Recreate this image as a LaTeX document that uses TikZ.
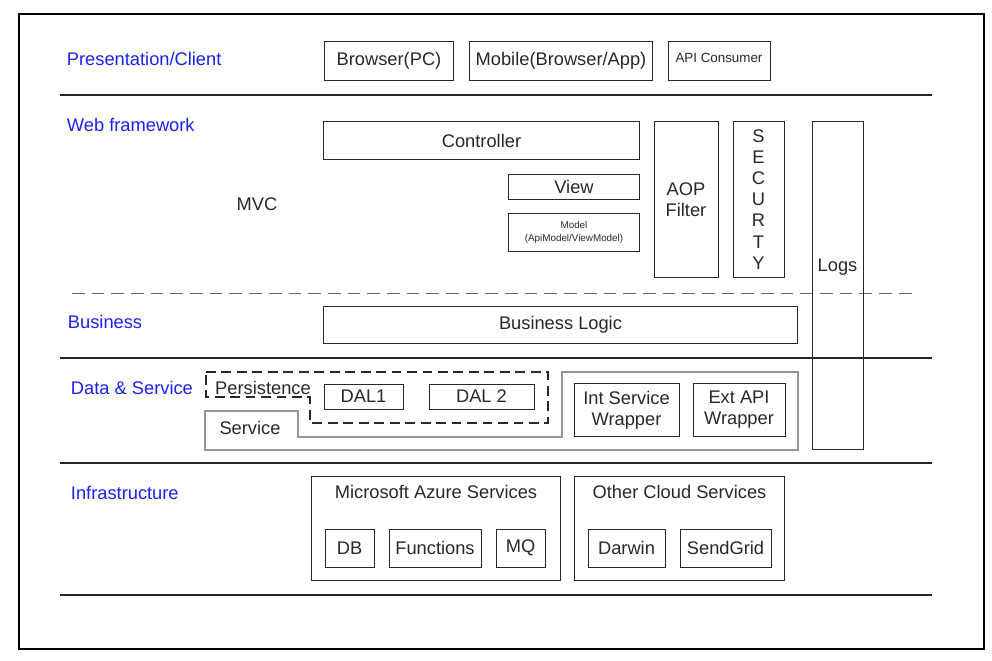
\documentclass[tikz,border=0pt]{standalone}
\usepackage{fontspec}
\setmainfont{Liberation Sans}
\definecolor{layerblue}{RGB}{25,35,235}
\definecolor{boxgray}{RGB}{40,40,40}
\definecolor{svcgray}{RGB}{150,150,150}
\begin{document}
\begin{tikzpicture}[x=0.025cm,y=-0.025cm,
        every node/.style={font=\fontsize{13}{15}\selectfont,text=boxgray},
        layer/.style={anchor=west,text=layerblue},
        part/.style={draw=boxgray,line width=0.7pt,inner sep=0pt,align=center},
        rule/.style={line width=1.6pt,draw=black!85}]
        \useasboundingbox (0,0) rectangle (992,661);
        \draw[line width=0.9pt] (19,14) rectangle (984,649);
        % layer names
        \begin{scope}[every node/.append style={layer}]
            \node (client) at (62,59)  {Presentation/Client};
            \node (web)    at (62,125) {Web framework};
            \node (biz)    at (63,322) {Business};
            \node (data)   at (66,388) {Data \& Service};
            \node (infra)  at (66,493) {Infrastructure};
        \end{scope}
        \node (mvc) at (257,204) {MVC};
        % layer separators
        \draw[rule] (60,95) -- (932,95);
        \draw[rule] (60,358) -- (932,358);
        \draw[rule] (60,463) -- (932,463);
        \draw[rule] (60,595) -- (932,595);
        \draw[dashed,dash pattern=on 9pt off 5pt,draw=black!60,line width=0.7pt] (72,293) -- (918,293);
        % clients
        \begin{scope}[every node/.append style={part,minimum height=0.95cm}]
            \node (browser) [minimum width=3.2cm]  at (389,61) {Browser(PC)};
            \node (mobile)  [minimum width=4.55cm] at (561,61) {Mobile(Browser/App)};
            \node (apicons) [minimum width=2.55cm,
                label={[anchor=north,yshift=2pt,font=\fontsize{9.5}{11}\selectfont]north:API Consumer}] at (719,61) {};
        \end{scope}
        % web framework
        \begin{scope}[every node/.append style={part}]
            \node (ctrl)  [minimum width=7.875cm,minimum height=0.925cm] at (481.5,140.5) {Controller};
            \node (view)  [minimum width=3.25cm,minimum height=0.625cm]  at (574,186.5) {View};
            \node (model) [minimum width=3.25cm,minimum height=0.925cm,
                font=\fontsize{7}{9.5}\selectfont] at (574,232.5) {Model\\(ApiModel/ViewModel)};
            \node (aop)   [minimum width=1.6cm,minimum height=3.875cm]   at (686,199.5) {AOP\\Filter};
            \node (sec)   [minimum width=1.275cm,minimum height=3.875cm] at (758.5,199.5) {S\\E\\C\\U\\R\\T\\Y};
            \node (logs)  [minimum width=1.275cm,minimum height=8.175cm,
                label={[yshift=0.45cm]center:Logs}] at (837.5,285.5) {};
            \node (logic) [minimum width=11.825cm,minimum height=0.925cm] at (560.5,324.5) {Business Logic};
        \end{scope}
        % data & service
        \draw[svcgray,line width=0.8pt] (205,411) -- (298,411) -- (298,437) -- (562,437) -- (562,372)
            -- (798,372) -- (798,450) -- (205,450) -- cycle;
        \draw[dashed,dash pattern=on 7pt off 4pt,line width=0.8pt,draw=boxgray]
            (206,372) -- (548,372) -- (548,423) -- (310,423) -- (310,397) -- (206,397) -- cycle;
        \node (persist) at (263,388) {Persistence};
        \node (service) at (250,428) {Service};
        \begin{scope}[every node/.append style={part}]
            \node (dal1)   [minimum width=1.975cm,minimum height=0.625cm] at (363.5,396.5) {DAL1};
            \node (dal2)   [minimum width=2.625cm,minimum height=0.625cm] at (481.5,396.5) {DAL 2};
            \node (intsvc) [minimum width=2.625cm,minimum height=1.3cm]   at (626.5,410) {Int Service\\Wrapper};
            \node (extapi) [minimum width=2.3cm,minimum height=1.3cm]     at (739,410) {Ext API\\Wrapper};
        \end{scope}
        % infrastructure
        \begin{scope}[every node/.append style={part}]
            \node (azure) [minimum width=6.2cm,minimum height=2.575cm,
                label={[anchor=north,yshift=-6pt]north:Microsoft Azure Services}] at (436,528.5) {};
            \node (other) [minimum width=5.225cm,minimum height=2.575cm,
                label={[anchor=north,yshift=-6pt]north:Other Cloud Services}] at (679.5,528.5) {};
        \end{scope}
        \begin{scope}[every node/.append style={part,minimum height=0.95cm}]
            \node (db)       [minimum width=1.225cm] at (349.5,548) {DB};
            \node (func)     [minimum width=2.3cm]   at (435,548) {Functions};
            \node (mq)       [minimum width=1.225cm] at (520.5,548) {MQ};
            \node (darwin)   [minimum width=1.925cm] at (626.5,548) {Darwin};
            \node (sendgrid) [minimum width=2.275cm] at (725.5,548) {SendGrid};
        \end{scope}
    \end{tikzpicture}
\end{document}
